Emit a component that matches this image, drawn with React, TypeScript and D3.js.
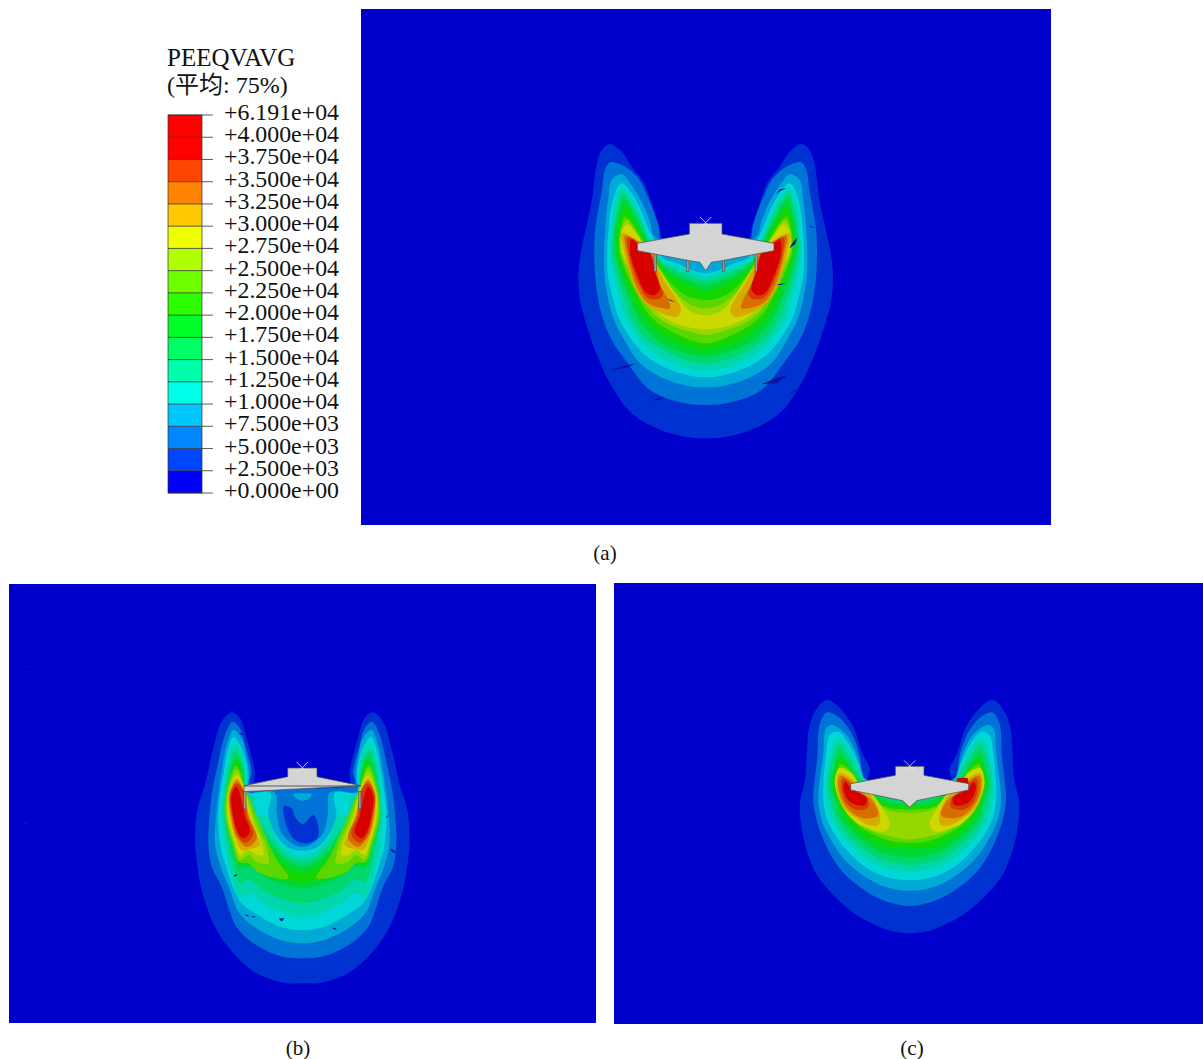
import React from "react";
import * as d3 from "d3";

type P = [number, number];

const legendTicks = ["+6.191e+04","+4.000e+04","+3.750e+04","+3.500e+04","+3.250e+04","+3.000e+04","+2.750e+04","+2.500e+04","+2.250e+04","+2.000e+04","+1.750e+04","+1.500e+04","+1.250e+04","+1.000e+04","+7.500e+03","+5.000e+03","+2.500e+03","+0.000e+00"];
const legendColors = ["#ff0000","#ff0000","#ff4600","#ff8200","#ffc800","#f0ff00","#afff00","#6eff00","#2dff00","#00ff28","#00ff64","#00ffaa","#00ffe6","#00c8ff","#0087ff","#0046ff","#0000ff"];
// shaded contour colours: index 0 = background (0–2500), up to 37500+
const plotColors = ["#0000cd","#0032d2","#0073d7","#00aad7","#00d7d7","#00d7aa","#00d76e","#00d732","#14d700","#5ad700","#96d700","#cdd700","#d7aa00","#d76e00","#d73c00","#d70000"];

// Panel (a) half contours, model units, left half, mirrored about aAxis
const aAxis = 437;
const aBands: P[][] = [
 [[437,925],[360,917],[290,895],[210,845],[150,760],[105,660],[75,570],[60,510],[55,440],[62,370],[75,305],[95,215],[110,105],[125,60],[150,42],[185,65],[215,110],[250,155],[280,235],[302,305],[310,330],[437,340]],
 [[437,825],[360,817],[270,780],[200,695],[155,630],[130,570],[115,510],[105,430],[105,305],[125,185],[135,120],[150,97],[195,110],[235,145],[265,205],[295,285],[305,330],[437,340]],
 [[437,772],[380,767],[310,745],[240,700],[190,625],[160,565],[145,510],[133,430],[135,305],[145,205],[155,150],[185,133],[210,160],[245,215],[270,275],[285,320],[437,340]],
 [[437,742],[390,737],[320,715],[255,675],[205,615],[175,560],[160,510],[143,430],[142,365],[145,305],[160,205],[185,160],[215,190],[245,245],[265,295],[285,335],[310,385],[350,400],[395,420],[437,430]],
 [[437,720],[385,715],[330,695],[270,660],[225,610],[195,560],[180,510],[160,430],[150,365],[155,305],[165,215],[185,175],[215,205],[245,265],[260,305],[285,360],[310,395],[350,410],[395,428],[437,440]],
 [[437,700],[350,680],[285,645],[240,605],[210,555],[195,510],[170,430],[157,365],[160,305],[175,225],[187,190],[220,230],[245,280],[255,305],[280,360],[305,395],[345,420],[395,440],[437,452]],
 [[437,680],[370,667],[300,635],[255,595],[230,555],[210,510],[180,430],[165,365],[165,305],[180,235],[190,205],[220,250],[250,305],[280,370],[305,405],[345,432],[395,455],[437,466]],
 [[437,660],[380,647],[320,620],[275,585],[245,550],[225,510],[190,430],[172,365],[173,305],[185,255],[195,230],[220,270],[240,305],[285,385],[310,420],[350,450],[395,472],[437,486]],
 [[437,640],[350,612],[295,580],[260,545],[240,510],[200,430],[178,365],[180,305],[195,260],[220,285],[235,310],[290,400],[320,445],[360,485],[395,503],[437,510]],
 [[437,615],[380,602],[320,580],[280,550],[255,515],[210,430],[182,365],[185,295],[200,270],[220,295],[240,325],[295,415],[330,470],[370,510],[400,528],[437,535]],
 [[437,598],[360,585],[310,560],[275,530],[245,490],[215,430],[186,365],[185,305],[202,283],[225,305],[245,335],[300,420],[345,490],[375,530],[405,550],[437,556]],
];
const aLobes: P[][] = [
 [[185,310],[190,355],[220,465],[255,520],[305,550],[350,560],[363,540],[345,500],[315,455],[295,415],[280,370],[240,335]],
 [[195,317],[200,365],[230,470],[265,520],[310,535],[330,535],[325,510],[300,465],[290,420],[275,370],[235,335]],
 [[203,323],[205,365],[235,460],[265,505],[300,505],[310,490],[295,455],[283,415],[270,370],[235,340]],
 [[215,327],[210,365],[235,445],[260,490],[285,495],[300,477],[285,425],[270,370],[235,342]],
];
const aDeck: P[] = [[388,280],[388,312],[232,340],[232,362],[388,392],[420,397],[437,422]];
const aPiles: P[] = [[282,370],[380,390]];
const aSlivers: P[][] = [
 [[152,720],[190,708],[230,700],[195,714]],[[275,812],[295,804],[315,802],[295,810]],
 [[605,762],[650,745],[685,734],[650,760]],[[690,790],[705,780],[715,778],[700,788]],
 [[648,192],[660,178],[680,175],[662,182]],[[688,355],[700,335],[712,322],[706,342]],
 [[745,285],[755,290],[765,292],[755,293]],[[648,465],[662,461],[678,460],[662,465]],
 [[320,505],[332,510],[346,515],[332,513]],[[-525,748],[-510,742],[-495,738],[-510,746]],
];

// Panel (b)
const bAxis = 367;
const bBands: P[][] = [
 [[367,850],[310,848],[230,820],[160,760],[105,680],[65,570],[50,480],[45,430],[52,330],[75,255],[100,145],[125,65],[155,37],[180,55],[200,115],[225,215],[225,250],[367,265]],
 [[367,775],[300,768],[220,730],[170,682],[148,630],[125,560],[95,500],[85,430],[90,330],[95,285],[115,185],[135,105],[158,65],[180,85],[195,135],[215,215],[210,250],[367,265]],
 [[367,730],[300,720],[225,682],[175,635],[150,570],[120,495],[105,430],[110,330],[125,215],[140,135],[160,90],[185,115],[200,175],[208,230],[200,270],[210,278],[285,278],[290,340],[305,400],[340,432],[367,440]],
 [[367,690],[300,680],[225,640],[185,610],[160,565],[135,490],[120,430],[115,335],[130,225],[145,145],[160,110],[180,135],[200,195],[202,250],[200,278],[270,278],[265,345],[285,400],[320,440],[367,452]],
 [[367,650],[300,635],[245,605],[208,578],[180,590],[155,530],[135,440],[125,345],[135,235],[148,165],[162,130],[185,155],[195,210],[195,250],[200,278],[225,290],[232,345],[262,350],[285,410],[320,450],[367,468]],
 [[367,610],[300,595],[245,568],[208,538],[180,548],[160,500],[145,430],[133,345],[138,255],[150,185],[165,150],[185,180],[195,230],[195,275],[215,335],[250,385],[285,430],[325,470],[367,483]],
 [[367,565],[300,550],[245,525],[208,498],[180,505],[160,450],[140,345],[142,275],[155,205],[170,170],[185,195],[193,250],[198,290],[215,350],[248,400],[285,450],[325,485],[367,500]],
 [[367,545],[310,535],[250,505],[208,472],[180,472],[155,420],[142,345],[145,285],[155,225],[170,185],[185,215],[192,255],[200,320],[222,375],[255,430],[300,485],[340,512],[367,518]],
];
const bLobes: P[][] = [
 [[168,198],[138,280],[135,350],[157,435],[175,485],[205,490],[240,520],[325,535],[285,470],[240,370],[200,275]],
 [[170,210],[143,280],[140,350],[163,435],[180,480],[205,465],[230,485],[265,490],[260,445],[225,360],[195,270]],
 [[170,225],[145,280],[145,350],[165,430],[180,465],[205,450],[230,465],[250,465],[245,430],[215,355],[193,260]],
 [[170,235],[147,280],[150,350],[168,420],[185,450],[205,448],[240,435],[230,405],[207,345],[190,265]],
 [[170,242],[150,280],[153,350],[170,410],[200,440],[230,415],[205,345],[190,270]],
 [[170,250],[150,285],[157,350],[175,410],[195,428],[220,405],[200,345],[190,270]],
 [[170,260],[155,285],[160,350],[175,400],[190,415],[210,395],[195,350],[190,325]],
];
const bHole: P[] = [[312,318],[335,325],[345,350],[368,372],[400,345],[415,380],[412,415],[380,430],[345,420],[322,385]];
const bCap: P[] = [[340,282],[367,280],[395,282],[385,298],[367,302],[352,298]];
const bDeck: P[] = [[323,204],[323,230],[192,257],[192,275]];
const bPiles: P[] = [[191,275]];
const bSlivers: P[][] = [
 [[178,100],[184,99],[190,106],[182,104]],[[615,163],[622,164],[630,170],[622,168]],
 [[630,445],[640,450],[650,460],[636,456]],[[615,355],[622,348],[630,340],[622,352]],
 [[297,655],[313,655],[306,664],[302,662]],[[456,683],[465,684],[472,690],[462,688]],
 [[160,527],[168,523],[172,526],[165,530]],[[195,642],[203,645],[208,650],[200,648]],
 [[212,650],[220,648],[228,652],[220,652]],[[213,858],[220,858],[220,864],[214,862]],
 [[-480,-102],[-465,-104],[-450,-100],[-465,-99]],[[-475,370],[-465,365],[-455,370],[-465,374]],
 [[-426,765],[-414,768],[-402,776],[-414,772]],[[-370,150],[-360,150],[-350,153],[-360,153]],
];

// Panel (c)
const cAxis = 359;
const cBands: P[][] = [
 [[359,730],[325,727],[285,717],[200,675],[130,615],[75,545],[40,440],[30,340],[45,270],[60,100],[85,50],[110,30],[145,50],[190,110],[215,185],[240,240],[235,270],[359,290]],
 [[359,648],[320,643],[265,625],[195,580],[145,530],[105,460],[80,390],[70,330],[82,200],[90,100],[112,67],[150,85],[190,140],[210,200],[225,265],[359,290]],
 [[359,602],[275,587],[210,550],[160,505],[120,445],[95,390],[85,330],[100,190],[108,115],[125,105],[165,130],[195,180],[215,240],[225,270],[359,290]],
 [[359,570],[285,560],[225,530],[175,485],[135,435],[110,385],[100,330],[100,290],[108,190],[120,135],[145,125],[175,160],[205,220],[222,265],[359,290]],
 [[359,545],[305,539],[240,515],[190,475],[150,430],[125,385],[110,330],[108,280],[120,200],[130,160],[147,145],[178,180],[210,240],[225,270],[359,300]],
 [[359,525],[315,520],[255,500],[205,465],[165,425],[140,385],[123,330],[115,280],[132,190],[148,165],[180,205],[208,255],[225,275],[359,310]],
 [[359,502],[275,487],[220,455],[180,420],[150,380],[135,330],[122,280],[135,225],[148,190],[175,220],[200,262],[230,295],[300,335],[359,340]],
 [[359,475],[295,470],[235,445],[195,415],[165,380],[145,330],[128,280],[140,235],[150,208],[180,235],[205,275],[240,318],[300,345],[359,348]],
 [[359,458],[300,452],[255,435],[210,410],[180,375],[157,330],[133,280],[145,240],[150,222],[185,245],[215,295],[260,335],[300,355],[345,358],[359,360]],
 [[359,448],[305,440],[240,420],[205,390],[170,335],[137,280],[145,240],[150,232],[185,255],[218,305],[260,340],[300,362],[359,368]],
];
const cLobes: P[][] = [
 [[147,235],[135,280],[155,345],[195,395],[235,415],[280,425],[300,405],[280,360],[245,310],[205,280],[185,250]],
 [[147,250],[140,290],[160,350],[200,385],[235,405],[265,405],[270,375],[245,320],[215,300],[190,270]],
 [[150,258],[145,290],[165,345],[205,380],[240,385],[265,375],[245,330],[215,310],[185,275]],
 [[160,265],[155,300],[170,340],[200,360],[235,350],[230,320],[205,305]],
 [[167,275],[160,290],[175,330],[200,345],[225,345],[230,325],[200,305],[185,298]],
];
const cRedPatch: P[] = [[500,265],[533,263],[536,282],[500,276]];
const cDeck: P[] = [[316,229],[316,256],[182,281],[182,300],[338,332],[359,352]];

const fmt = d3.line<P>().curve(d3.curveCatmullRomClosed.alpha(0.5));
const straight = d3.line<P>();

function mirror(pts: P[], axis: number): P[] {
  return pts.map(([x, y]) => [2 * axis - x, y] as P);
}
function joined(half: P[], axis: number): P[] {
  const inner = half.slice(1, -1);
  return [...half, ...mirror(inner, axis).reverse()];
}

type PanelProps = {
  rect: [number, number, number, number];
  origin: P;
  axis: number;
  bands: P[][];
  lobes: P[][];
  deck: P[];
  piles: P[];
  pileH: number;
  slivers: P[][];
  kind: string;
  cross: P;
  hole?: P[];
  cap?: P[];
  red?: P[];
};

function Panel(p: PanelProps) {
  const x = d3.scaleLinear().domain([0, 3]).range([p.origin[0], p.origin[0] + 1]);
  const y = d3.scaleLinear().domain([0, 3]).range([p.origin[1], p.origin[1] + 1]);
  const pr = (a: P[]) => a.map(([u, v]) => [x(u), y(v)] as P);
  const [rx, ry, rw, rh] = p.rect;
  const id = "clip" + p.kind;
  const lobeStart = p.bands.length + 1;
  const deckFull = [...p.deck, ...mirror(p.deck.slice(0, -1), p.axis).reverse()];
  const [cu, cv] = p.cross;
  return (
    <g>
      <clipPath id={id}><rect x={rx} y={ry} width={rw} height={rh} /></clipPath>
      <g clipPath={`url(#${id})`}>
        <rect x={rx} y={ry} width={rw} height={rh} fill={plotColors[0]} />
        {p.bands.map((b, i) => (
          <path key={i} d={fmt(pr(joined(b, p.axis)))!} fill={plotColors[i + 1]} />
        ))}
        {p.lobes.flatMap((l, i) => [l, mirror(l, p.axis)].map((q, j) => (
          <path key={`${i}${j}`} d={fmt(pr(q))!} fill={plotColors[lobeStart + i]} />
        )))}
        {p.hole && <path d={fmt(pr(p.hole))!} fill={plotColors[1]} />}
        {p.cap && <path d={fmt(pr(p.cap))!} fill={plotColors[3]} />}
        {p.red && <path d={straight(pr(p.red))! + "Z"} fill={plotColors[15]} />}
        {p.slivers.map((s, i) => (
          <path key={i} d={straight(pr(s))! + "Z"} fill="#0a14a0" />
        ))}
        {p.piles.flatMap((q, i) => [q[0], 2 * p.axis - q[0] - 7].map((u, j) => (
          <rect key={`${i}${j}`} x={x(u)} y={y(q[1])} width={7 / 3} height={y(p.pileH) - y(q[1])} fill="#9a9a9a" stroke="#444" strokeWidth={0.5} />
        )))}
        <path d={straight(pr(deckFull))! + "Z"} fill="#d4d4d4" stroke="#4a4a4a" strokeWidth={0.7} strokeLinejoin="round" />
        {p.kind === "b" && (
          <line x1={x(192)} x2={x(543)} y1={y(258)} y2={y(258)} stroke="#4a4a4a" strokeWidth={0.9} />
        )}
        {[[-17, -17, 17, 17], [-17, 17, 17, -17]].map((c, i) => (
          <line key={i} x1={x(cu + c[0])} y1={y(cv + c[1])} x2={x(cu + c[2])} y2={y(cv + c[3])} stroke="#e8e8f0" strokeWidth={0.8} />
        ))}
      </g>
    </g>
  );
}

function Legend() {
  const y = d3.scaleLinear().domain([0, legendTicks.length - 1]).range([115, 493]);
  const font = "'Liberation Serif','Noto Sans CJK SC',serif";
  return (
    <g fontFamily={font} fill="#111">
      <text x={167} y={66} fontSize={25}>PEEQVAVG</text>
      <text x={167} y={93} fontSize={24}>(平均: 75%)</text>
      {legendColors.map((c, i) => (
        <rect key={i} x={168} y={y(i)} width={34} height={y(i + 1) - y(i)} fill={c} />
      ))}
      <rect x={168} y={115} width={34} height={378} fill="none" stroke="#333" strokeWidth={0.7} />
      {legendTicks.map((t, i) => (
        <g key={t}>
          <line x1={168} x2={213} y1={y(i)} y2={y(i)} stroke="#333" strokeWidth={0.8} />
          <text x={224} y={y(i) + 5} fontSize={23.5} textLength={115} lengthAdjust="spacingAndGlyphs">{t}</text>
        </g>
      ))}
    </g>
  );
}

export default function App() {
  const capFont = "'Liberation Serif',serif";
  return (
    <svg width={1203} height={1059} style={{ position: "absolute", left: 0, top: 0, background: "#fff" }}>
      <Panel kind="a" rect={[361, 9, 690, 516]} origin={[560, 130]} axis={aAxis} bands={aBands} lobes={aLobes} deck={aDeck} piles={aPiles} pileH={424} slivers={aSlivers} cross={[437, 278]} />
      <Panel kind="b" rect={[9, 584, 587, 439]} origin={[180, 700]} axis={bAxis} bands={bBands} lobes={bLobes} deck={bDeck} piles={bPiles} pileH={327} slivers={bSlivers} cross={[367, 203]} hole={bHole} cap={bCap} />
      <Panel kind="c" rect={[614, 583, 589, 441]} origin={[790, 690]} axis={cAxis} bands={cBands} lobes={cLobes} deck={cDeck} piles={[]} pileH={0} slivers={[]} cross={[359, 228]} red={cRedPatch} />
      <Legend />
      <g fontFamily={capFont} fontSize={21} fill="#111" textAnchor="middle">
        <text x={605} y={560}>(a)</text>
        <text x={298} y={1055}>(b)</text>
        <text x={912} y={1055}>(c)</text>
      </g>
    </svg>
  );
}
